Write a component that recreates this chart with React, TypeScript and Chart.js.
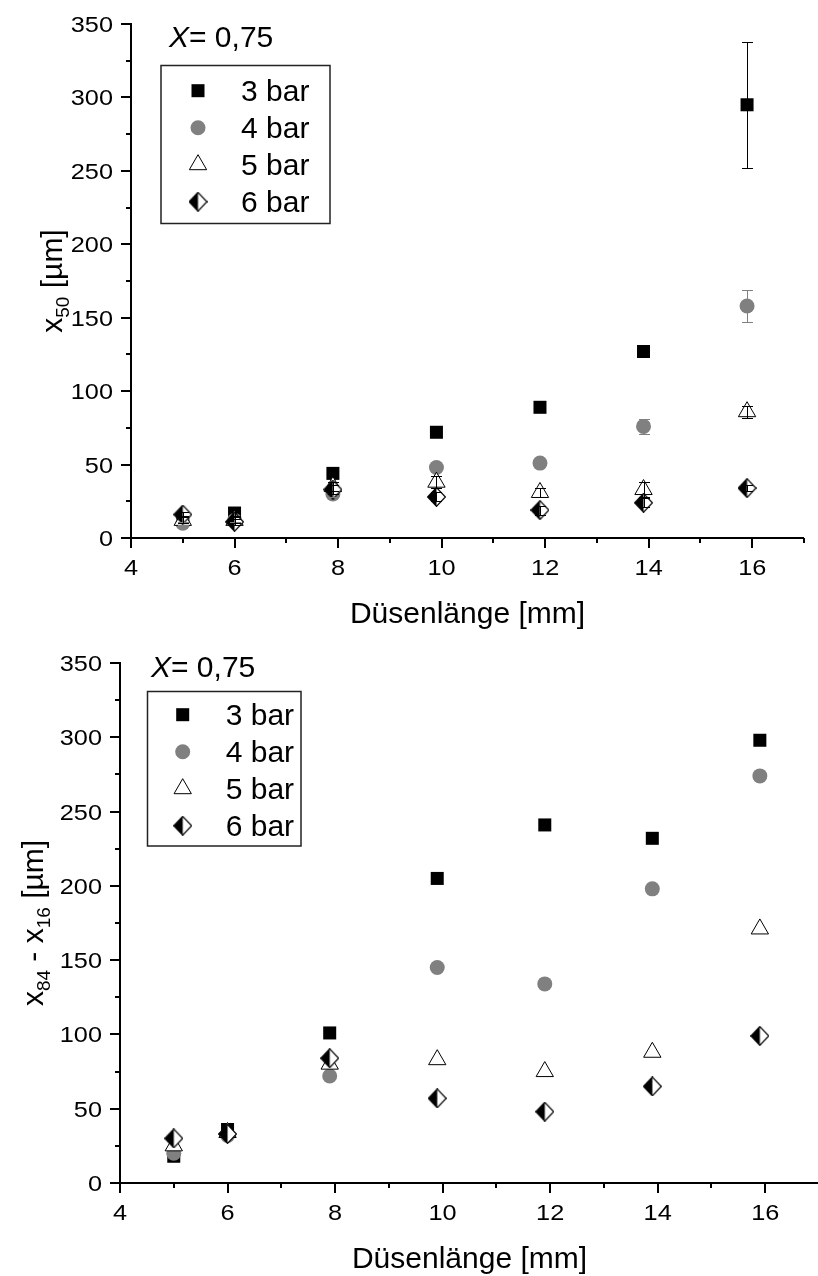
import React, { useEffect, useRef } from 'react';
import { Chart, registerables } from 'chart.js';

Chart.register(...registerables);

const FONT = '"Liberation Sans", Arial, Helvetica, sans-serif';

// Nozzle lengths in mm, shared by every series
const nozzleLength = [5, 6, 7.9, 9.9, 11.9, 13.9, 15.9];
const seriesNames = ['3 bar', '4 bar', '5 bar', '6 bar'];

// Median particle size x50 [µm]
const x50At3bar = [13, 17, 44, 72, 89, 127, 295];
const x50At4bar = [10, 12, 30, 48, 51, 76, 158];
const x50At5bar = [12, 12, 35, 38, 31, 33, 86];
const x50At6bar = [16, 11, 33, 28, 19, 24, 34];

// Standard deviation of x50 [µm]
const x50Err3bar = [2, 2, 2, 2, 2, 3, 43];
const x50Err4bar = [1, 1, 2, 2, 2, 5, 11];
const x50Err5bar = [2, 2, 3, 4, 3, 5, 4];
const x50Err6bar = [2, 2, 3, 3, 3, 3, 2];

// Distribution width x84 - x16 [µm]
const spanAt3bar = [18, 36, 101, 205, 241, 232, 298];
const spanAt4bar = [20, 32, 72, 145, 134, 198, 274];
const spanAt5bar = [25, 34, 80, 83, 75, 88, 171];
const spanAt6bar = [30, 33, 84, 57, 48, 65, 99];

// Axis ticks
const xMajorTicks = [4, 6, 8, 10, 12, 14, 16];
const xMinorTicks = [5, 7, 9, 11, 13, 15, 17];
const yMajorTicks = [0, 50, 100, 150, 200, 250, 300, 350];
const yMinorTicks = [25, 75, 125, 175, 225, 275, 325];

const xTitle = 'Düsenlänge [mm]';
const noteSymbol = 'X';
const noteValue = '= 0,75';

// tick labels are set slightly wide
const TICK_SIZE = 22;
const TICK_STRETCH = 1.15;

type Seg = { text: string; size: number; dy?: number; italic?: boolean };

function font(size: number, italic = false) {
  return `${italic ? 'italic ' : ''}${size}px ${FONT}`;
}

function drawSegments(ctx: CanvasRenderingContext2D, x: number, y: number, segs: Seg[], center: boolean) {
  let total = 0;
  for (const s of segs) {
    ctx.font = font(s.size, s.italic);
    total += ctx.measureText(s.text).width;
  }
  let cx = center ? x - total / 2 : x;
  ctx.textAlign = 'left';
  ctx.textBaseline = 'alphabetic';
  for (const s of segs) {
    ctx.font = font(s.size, s.italic);
    ctx.fillText(s.text, cx, y + (s.dy || 0));
    cx += ctx.measureText(s.text).width;
  }
}

function wideText(ctx: CanvasRenderingContext2D, text: string, x: number, y: number, align: CanvasTextAlign) {
  ctx.save();
  ctx.translate(x, y);
  ctx.scale(TICK_STRETCH, 1);
  ctx.font = font(TICK_SIZE);
  ctx.textAlign = align;
  ctx.textBaseline = 'alphabetic';
  ctx.fillText(text, 0, 0);
  ctx.restore();
}

function makeDiamond(w: number, h: number) {
  const c = document.createElement('canvas');
  c.width = w;
  c.height = h;
  const g = c.getContext('2d')!;
  const cx = w / 2;
  const cy = h / 2;
  const path = () => {
    g.beginPath();
    g.moveTo(cx, 0.6);
    g.lineTo(w - 0.6, cy);
    g.lineTo(cx, h - 0.6);
    g.lineTo(0.6, cy);
    g.closePath();
  };
  g.fillStyle = '#fff';
  path();
  g.fill();
  g.fillStyle = '#000';
  g.beginPath();
  g.moveTo(cx, 0.6);
  g.lineTo(cx, h - 0.6);
  g.lineTo(0.6, cy);
  g.closePath();
  g.fill();
  g.strokeStyle = '#000';
  g.lineWidth = 1.2;
  path();
  g.stroke();
  return c;
}

function markerStyles(diamond: HTMLCanvasElement) {
  return [
    { pointStyle: 'rect', pointRadius: 9.2, backgroundColor: '#000', borderColor: '#000', borderWidth: 0, errColor: '#000' },
    { pointStyle: 'circle', pointRadius: 7.5, backgroundColor: '#808080', borderColor: '#808080', borderWidth: 0, errColor: '#808080' },
    { pointStyle: 'triangle', pointRadius: 10, backgroundColor: '#fff', borderColor: '#000', borderWidth: 1, errColor: '#000' },
    { pointStyle: diamond, pointRadius: 10, backgroundColor: '#000', borderColor: '#000', borderWidth: 0, errColor: '#000' },
  ];
}

function drawMarker(ctx: CanvasRenderingContext2D, m: any, x: number, y: number) {
  const r = m.pointRadius;
  ctx.save();
  if (m.pointStyle instanceof HTMLCanvasElement) {
    const img = m.pointStyle as HTMLCanvasElement;
    ctx.drawImage(img, x - img.width / 2, y - img.height / 2);
    ctx.restore();
    return;
  }
  ctx.fillStyle = m.backgroundColor;
  ctx.strokeStyle = m.borderColor;
  ctx.lineWidth = m.borderWidth;
  ctx.beginPath();
  if (m.pointStyle === 'rect') {
    const s = Math.SQRT1_2 * r;
    ctx.rect(x - s, y - s, 2 * s, 2 * s);
  } else if (m.pointStyle === 'circle') {
    ctx.arc(x, y, r, 0, Math.PI * 2);
  } else if (m.pointStyle === 'triangle') {
    const a = Math.sin(Math.PI * 2 / 3) * r;
    ctx.moveTo(x, y - r);
    ctx.lineTo(x + a, y + r / 2);
    ctx.lineTo(x - a, y + r / 2);
    ctx.closePath();
  }
  ctx.fill();
  if (m.borderWidth > 0) ctx.stroke();
  ctx.restore();
}

type Spec = {
  yTitle: Seg[];
  yTitleX: number;
  note: [number, number];
  legendBox: [number, number, number, number];
  markerX: number;
  textX: number;
  row0: number;
  rowGap: number;
};

function figurePlugin(spec: Spec) {
  return {
    id: 'figureDecor',
    beforeDatasetsDraw(chart: any) {
      const { ctx, chartArea: a, scales } = chart;
      const xs = scales.x;
      const ys = scales.y;
      const x0 = Math.round(a.left);
      const y0 = Math.round(a.bottom);
      ctx.save();
      ctx.strokeStyle = '#000';
      ctx.lineWidth = 2;
      ctx.lineCap = 'butt';
      ctx.beginPath();
      ctx.moveTo(x0, a.top - 1);
      ctx.lineTo(x0, y0 + 5);
      ctx.moveTo(x0 - 1, y0);
      ctx.lineTo(a.right, y0);
      for (const v of xMajorTicks) {
        const p = Math.round(xs.getPixelForValue(v));
        ctx.moveTo(p, y0);
        ctx.lineTo(p, y0 + 10);
      }
      for (const v of xMinorTicks) {
        const p = Math.round(xs.getPixelForValue(v));
        ctx.moveTo(p, y0);
        ctx.lineTo(p, y0 + 5);
      }
      for (const v of yMajorTicks) {
        const p = Math.round(ys.getPixelForValue(v));
        ctx.moveTo(x0, p);
        ctx.lineTo(x0 - 10, p);
      }
      for (const v of yMinorTicks) {
        const p = Math.round(ys.getPixelForValue(v));
        ctx.moveTo(x0, p);
        ctx.lineTo(x0 - 5, p);
      }
      ctx.stroke();
      ctx.restore();
    },
    afterDatasetsDraw(chart: any) {
      const { ctx, scales } = chart;
      const ys = scales.y;
      ctx.save();
      ctx.lineWidth = 1;
      chart.data.datasets.forEach((ds: any, i: number) => {
        if (!ds.errors) return;
        const meta = chart.getDatasetMeta(i);
        ctx.strokeStyle = ds.errColor;
        meta.data.forEach((pt: any, j: number) => {
          const e = ds.errors[j];
          if (!e) return;
          const v = ds.data[j].y;
          const px = Math.round(pt.x) + 0.5;
          const t = Math.round(ys.getPixelForValue(v + e)) + 0.5;
          const b = Math.round(ys.getPixelForValue(v - e)) + 0.5;
          ctx.beginPath();
          ctx.moveTo(px, t);
          ctx.lineTo(px, b);
          ctx.moveTo(px - 5.5, t);
          ctx.lineTo(px + 5.5, t);
          ctx.moveTo(px - 5.5, b);
          ctx.lineTo(px + 5.5, b);
          ctx.stroke();
        });
      });
      ctx.restore();
    },
    afterDraw(chart: any) {
      const { ctx, chartArea: a, scales } = chart;
      const xs = scales.x;
      const ys = scales.y;
      const x0 = Math.round(a.left);
      const y0 = Math.round(a.bottom);
      ctx.save();
      ctx.fillStyle = '#000';

      // tick labels
      for (const v of xMajorTicks) {
        wideText(ctx, String(v), xs.getPixelForValue(v), y0 + 37, 'center');
      }
      for (const v of yMajorTicks) {
        wideText(ctx, String(v), x0 - 18, ys.getPixelForValue(v) + 8, 'right');
      }

      // x axis title
      ctx.font = font(30);
      ctx.textAlign = 'center';
      ctx.textBaseline = 'alphabetic';
      ctx.fillText(xTitle, (a.left + a.right) / 2, y0 + 85);

      // y axis title, rotated
      ctx.save();
      ctx.translate(spec.yTitleX, (a.top + a.bottom) / 2);
      ctx.rotate(-Math.PI / 2);
      drawSegments(ctx, 0, 0, spec.yTitle, true);
      ctx.restore();

      // parameter note
      drawSegments(ctx, spec.note[0], spec.note[1], [
        { text: noteSymbol, size: 30, italic: true },
        { text: noteValue, size: 30 },
      ], false);

      // legend box
      const [l, t, r, b] = spec.legendBox;
      ctx.strokeStyle = '#222';
      ctx.lineWidth = 1.5;
      ctx.strokeRect(l, t, r - l, b - t);
      chart.data.datasets.forEach((ds: any, i: number) => {
        const y = spec.row0 + i * spec.rowGap;
        drawMarker(ctx, ds, spec.markerX, y);
        ctx.fillStyle = '#000';
        ctx.font = font(30);
        ctx.textAlign = 'left';
        ctx.textBaseline = 'alphabetic';
        ctx.fillText(ds.label, spec.textX, y + 10.7);
      });
      ctx.restore();
    },
  };
}

function buildConfig(series: number[][], errors: (number[] | null)[], diamond: HTMLCanvasElement, padding: any, spec: Spec) {
  const styles = markerStyles(diamond);
  const datasets = series.map((vals, i) => ({
    label: seriesNames[i],
    data: nozzleLength.map((x, j) => ({ x, y: vals[j] })),
    ...styles[i],
    errors: errors[i],
    order: 3 - i,
    showLine: false,
  }));
  return {
    type: 'scatter',
    data: { datasets },
    options: {
      animation: false,
      responsive: false,
      events: [],
      layout: { padding },
      plugins: { legend: { display: false }, title: { display: false }, tooltip: { enabled: false } },
      scales: {
        x: { type: 'linear', min: 4, max: 17, display: false },
        y: { type: 'linear', min: 0, max: 350, display: false },
      },
    },
    plugins: [figurePlugin(spec)],
  } as any;
}

export default function App() {
  const topRef = useRef<HTMLCanvasElement>(null);
  const bottomRef = useRef<HTMLCanvasElement>(null);

  useEffect(() => {
    const diamond = makeDiamond(19, 20);
    const top = new Chart(
      topRef.current!,
      buildConfig(
        [x50At3bar, x50At4bar, x50At5bar, x50At6bar],
        [x50Err3bar, x50Err4bar, x50Err5bar, x50Err6bar],
        diamond,
        { left: 131, right: 14, top: 24, bottom: 102 },
        {
          yTitle: [
            { text: 'x', size: 30 },
            { text: '50', size: 19, dy: 7 },
            { text: ' [µm]', size: 30 },
          ],
          yTitleX: 62,
          note: [169, 47],
          legendBox: [161, 65.5, 330, 223.5],
          markerX: 198,
          textX: 241,
          row0: 90.7,
          rowGap: 37,
        },
      ),
    );
    const bottom = new Chart(
      bottomRef.current!,
      buildConfig(
        [spanAt3bar, spanAt4bar, spanAt5bar, spanAt6bar],
        [null, null, null, null],
        diamond,
        { left: 120, right: 7, top: 23, bottom: 93 },
        {
          yTitle: [
            { text: 'x', size: 30 },
            { text: '84', size: 19, dy: 7 },
            { text: ' - x', size: 30 },
            { text: '16', size: 19, dy: 7 },
            { text: ' [µm]', size: 30 },
          ],
          yTitleX: 43,
          note: [151, 36.7],
          legendBox: [147.5, 51.5, 301, 206],
          markerX: 182.7,
          textX: 225.7,
          row0: 74.7,
          rowGap: 37,
        },
      ),
    );
    return () => {
      top.destroy();
      bottom.destroy();
    };
  }, []);

  return (
    <div style={{ position: 'fixed', left: 0, top: 0, width: 818, height: 1276, overflow: 'hidden', background: '#fff' }}>
      <canvas ref={topRef} width={818} height={640} style={{ position: 'absolute', left: 0, top: 0 }} />
      <canvas ref={bottomRef} width={830} height={636} style={{ position: 'absolute', left: 0, top: 640 }} />
    </div>
  );
}
